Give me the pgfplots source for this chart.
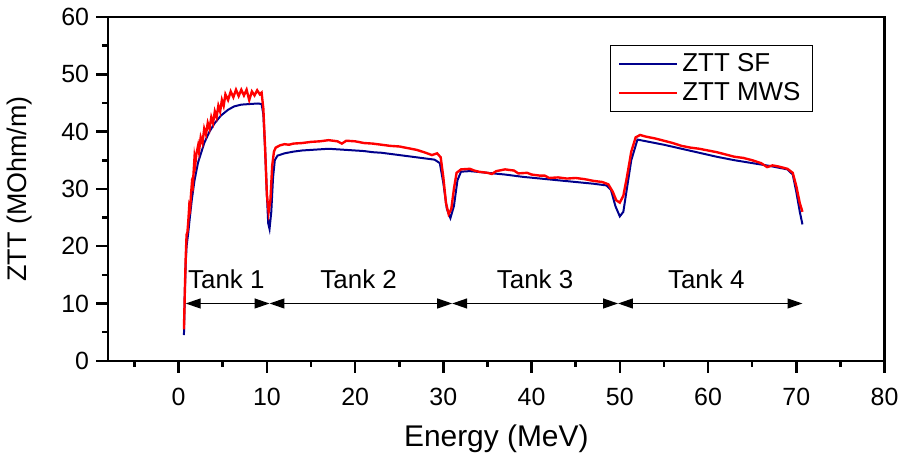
\documentclass[border=0pt]{standalone}
\usepackage{fontspec}
\setmainfont{Liberation Sans}
\usepackage{pgfplots}
\pgfplotsset{compat=1.18}
\usetikzlibrary{arrows.meta}
\definecolor{sfblue}{RGB}{0,0,140}
\definecolor{mwsred}{RGB}{255,0,0}

\pgfplotstableread{
E Z
0.6 4.5
0.7 12
0.8 17
0.9 20
1.1 22.5
1.3 25.5
1.5 28.2
1.8 31.5
2.2 34.6
2.9 38
3.5 40
4.1 41.5
4.8 42.8
5.6 43.8
6.3 44.4
7.1 44.7
8.0 44.8
9.0 44.9
9.4 44.8
9.6 43
9.8 37
10.0 29
10.15 24
10.3 23
10.5 26
10.7 32
10.9 35
11.2 35.8
12 36.2
13 36.5
14 36.7
15 36.8
16 36.9
17 37.0
18 36.9
19 36.8
20 36.7
21 36.6
22 36.4
23 36.3
24 36.1
25 35.9
26 35.7
27 35.5
28 35.3
29 35.1
29.6 34.5
30 31
30.4 26.5
30.8 24.9
31.2 27
31.6 31.5
32 33
33 33.1
35 32.8
37 32.5
39 32.1
41 31.8
43 31.5
45 31.2
47 30.9
48.5 30.6
49 29.8
49.5 27
50 25.2
50.4 26
50.8 30
51.3 35
52 38.6
53 38.3
55 37.7
57 37
59 36.3
61 35.6
63 35
65 34.5
67 34
69 33.4
69.6 32.5
70 29.5
70.4 26
70.7 23.8
}\sfdata

\pgfplotstableread{
E Z
0.6 5.5
0.7 12
0.8 18
0.9 22
1.0 22.5
1.1 24.5
1.2 27
1.3 26.5
1.4 29
1.5 31
1.6 30.5
1.7 33
1.8 35.5
1.9 34.5
2.0 36
2.2 37.5
2.3 36.5
2.5 39
2.7 38
2.9 40.5
3.1 39.5
3.3 41.5
3.5 40.5
3.7 42.5
3.9 41.5
4.1 43.5
4.3 42.5
4.5 44.5
4.7 43.5
4.9 45.5
5.1 44.5
5.3 46.5
5.6 45.5
5.9 47
6.2 46
6.5 47.3
6.8 46.2
7.1 47.3
7.4 46.3
7.7 47.3
8.0 45.5
8.3 47
8.6 46.3
8.9 47.2
9.2 46.5
9.4 46.8
9.6 44
9.8 37
10.0 29
10.2 26
10.4 28
10.6 34
10.8 36.5
11.0 37.2
11.5 37.6
12 37.8
12.5 37.7
13 37.9
14 38.0
15 38.2
16 38.3
17 38.5
18 38.3
18.5 37.9
19 38.4
20 38.3
21 38.0
22 37.9
23 37.7
24 37.5
25 37.4
26 37.1
27 36.8
28 36.3
28.7 35.9
29.3 36.2
29.7 35.5
30 32
30.3 27.5
30.6 25.6
30.9 26.5
31.2 30
31.5 32.8
32 33.4
33 33.5
33.5 33.2
34 33
35 32.8
35.5 32.6
36 33.1
37 33.4
38 33.2
38.5 32.7
39.5 32.8
40 32.5
41 32.3
41.5 32.3
42 31.9
43 32.0
44 31.8
45 31.9
46 31.7
47 31.4
48 31.2
48.7 30.8
49.2 29.5
49.6 28
50 27.6
50.4 28.8
50.8 32
51.3 36.5
51.8 39
52.3 39.4
53 39.1
54 38.8
55 38.4
56 38.0
57 37.5
58 37.2
59 37.0
60 36.7
61 36.4
62 36.0
63 35.6
64 35.4
65 35.0
66 34.5
66.7 33.8
67.3 34.1
68 33.9
69 33.5
69.6 32.8
70 30.5
70.4 27.5
70.7 26.0
}\mwsdata

\begin{document}
\begin{tikzpicture}
\begin{axis}[
  name=main,
  scale only axis,
  width=389.5pt, height=172.5pt,
  xmin=-8, xmax=80, ymin=0, ymax=60,
  xtick={0,10,...,80}, minor xtick={-5,5,...,75},
  ytick={0,10,...,60}, minor ytick={5,15,...,55},
  tick align=outside, tick pos=left,
  major tick length=6pt, minor tick length=3pt,
  axis line style={line width=1.3pt},
  every tick/.style={black, line width=1.3pt},
  /pgf/number format/assume math mode=true,
  ticklabel style={font=\fontsize{12.5}{14}\selectfont},
  xticklabel style={yshift=-4pt},
  xlabel={Energy (MeV)}, ylabel={ZTT (MOhm/m)},
  xlabel style={font=\fontsize{15}{17}\selectfont, yshift=-3pt},
  ylabel style={font=\fontsize{13.5}{15}\selectfont, yshift=8pt},
  legend cell align=left,
  legend image code/.code={\draw[#1] (0pt,0pt) -- (29pt,0pt);},
  legend style={at={(0.646,0.919)}, anchor=north west, draw=black,
    line width=0.6pt, font=\fontsize{13}{15}\selectfont,
    row sep=0pt, inner xsep=4pt, inner ysep=2pt},
]
\addplot[sfblue, line width=1pt] table[x=E, y=Z] {\sfdata};
\addlegendentry{ZTT SF}
\addplot[mwsred, line width=1.2pt] table[x=E, y=Z] {\mwsdata};
\addlegendentry{ZTT MWS}

\draw[{Triangle[length=7.5pt,width=5pt]}-{Triangle[length=7.5pt,width=5pt]}, line width=0.6pt]
  (axis cs:0.8,10) -- (axis cs:10.3,10);
\draw[{Triangle[length=7.5pt,width=5pt]}-{Triangle[length=7.5pt,width=5pt]}, line width=0.6pt]
  (axis cs:10.3,10) -- (axis cs:31,10);
\draw[{Triangle[length=7.5pt,width=5pt]}-{Triangle[length=7.5pt,width=5pt]}, line width=0.6pt]
  (axis cs:31,10) -- (axis cs:49.8,10);
\draw[{Triangle[length=7.5pt,width=5pt]}-{Triangle[length=7.5pt,width=5pt]}, line width=0.6pt]
  (axis cs:49.8,10) -- (axis cs:70.7,10);
\node[font=\fontsize{13}{15}\selectfont] at (axis cs:5.4,14.2) {Tank 1};
\node[font=\fontsize{13}{15}\selectfont] at (axis cs:20.4,14.2) {Tank 2};
\node[font=\fontsize{13}{15}\selectfont] at (axis cs:40.4,14.2) {Tank 3};
\node[font=\fontsize{13}{15}\selectfont] at (axis cs:59.8,14.2) {Tank 4};
\end{axis}
\draw[black, line width=1.3pt, line cap=rect] (main.north west) -- (main.north east) -- (main.south east);
\path (main.south west) ++(-53.5pt,-48.5pt) coordinate (bbA);
\path (main.north east) ++(9.5pt,8.5pt) coordinate (bbB);
\path (bbA) rectangle (bbB);
\end{tikzpicture}
\end{document}
